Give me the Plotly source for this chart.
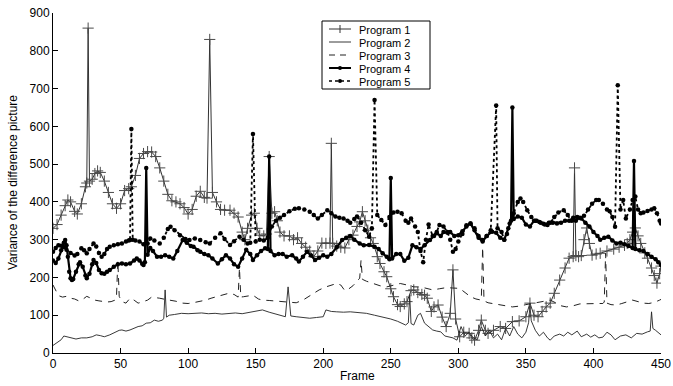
import plotly.graph_objects as go

# ---------------- data ----------------
x_ticks = [0, 50, 100, 150, 200, 250, 300, 350, 400, 450]
y_ticks = [0, 100, 200, 300, 400, 500, 600, 700, 800, 900]
series_names = ["Program 1", "Program 2", "Program 3", "Program 4", "Program 5"]

p1_frames = [0, 3, 6, 9, 11, 13, 16, 18, 21, 24, 25, 26, 27, 29, 31, 33, 35, 38, 41, 44, 47, 50, 53, 56, 58,
             61, 64, 67, 70, 73, 76, 79, 82, 85, 88, 91, 94, 97, 100, 103, 106, 109, 112, 114, 116, 118, 121,
             124, 127, 131, 134, 137, 140, 142, 144, 147, 149, 151, 153, 156, 158, 160, 162, 164, 166, 168,
             171, 175, 178, 181, 184, 187, 190, 193, 196, 199, 202, 205, 206, 207, 210, 213, 216, 219, 222,
             225, 227, 229, 231, 233, 235, 237, 240, 242, 245, 247, 250, 252, 255, 257, 260, 262, 265, 267,
             270, 273, 275, 277, 280, 282, 285, 288, 291, 294, 296, 298, 301, 304, 308, 310, 312, 315, 317,
             320, 322, 326, 331, 335, 340, 345, 350, 353, 356, 359, 362, 365, 368, 371, 375, 379, 382, 385,
             386, 387, 389, 391, 393, 395, 397, 399, 402, 405, 410, 415, 419, 423, 425, 427, 429, 431, 433,
             435, 438, 440, 443, 445, 447, 449, 450]
p1_values = [330, 340, 365, 390, 405, 400, 375, 368, 395, 440, 450, 860, 455, 460, 475, 482, 478, 455, 425, 395,
             383, 395, 430, 435, 440, 470, 515, 528, 533, 532, 520, 490, 455, 420, 403, 400, 395, 385, 368, 380,
             415, 428, 412, 410, 830, 425, 400, 380, 378, 378, 370, 360, 320, 300, 330, 365, 370, 330, 312, 310,
             315, 520, 370, 374, 350, 320, 310, 310, 300, 305, 290, 280, 270, 255, 270, 291, 290, 291, 555, 290,
             283, 280, 278, 300, 312, 335, 347, 374, 350, 325, 305, 290, 255, 237, 215, 202, 170, 149, 128, 123,
             130, 136, 165, 167, 160, 155, 153, 145, 110, 122, 127, 95, 70, 105, 220, 90, 43, 55, 52, 40, 34, 60,
             87, 60, 52, 60, 70, 65, 83, 85, 96, 132, 100, 96, 110, 122, 132, 158, 193, 225, 251, 255, 490, 258,
             255, 258, 300, 331, 290, 259, 262, 264, 270, 275, 280, 285, 290, 300, 320, 331, 310, 290, 265, 251,
             225, 205, 185, 210, 230]

p2_frames = [0, 3, 6, 8, 10, 13, 17, 21, 25, 29, 32, 35, 38, 42, 46, 49, 51, 54, 57, 60, 63, 66, 69, 72, 75,
             78, 81, 82, 83, 84, 86, 90, 95, 100, 105, 110, 115, 120, 125, 130, 135, 140, 145, 150, 155, 160,
             163, 168, 172, 174, 176, 180, 185, 190, 195, 200, 202, 206, 210, 215, 220, 225, 232, 238, 244,
             250, 255, 258, 261, 263, 264, 265, 267, 270, 272, 275, 278, 281, 284, 287, 290, 293, 296, 299,
             302, 305, 308, 311, 314, 317, 320, 323, 326, 329, 332, 335, 338, 341, 344, 347, 350, 352, 353,
             354, 357, 360, 363, 366, 368, 371, 375, 378, 381, 384, 388, 391, 395, 398, 401, 404, 407, 410,
             413, 416, 420, 424, 428, 432, 436, 440, 442, 443, 444, 446, 448, 450]
p2_values = [20, 28, 35, 45, 43, 40, 37, 40, 40, 43, 48, 46, 43, 48, 56, 60, 61, 58, 61, 66, 70, 72, 79, 80, 87,
             84, 87, 92, 167, 95, 100, 102, 105, 104, 105, 106, 104, 105, 103, 105, 106, 104, 108, 110, 114, 108,
             105, 100, 96, 175, 98, 96, 94, 92, 94, 96, 114, 110, 109, 108, 109, 107, 105, 100, 96, 90, 84, 78,
             74, 80, 153, 78, 74, 100, 105, 79, 70, 61, 58, 56, 45, 42, 40, 34, 70, 45, 55, 40, 35, 70, 45, 60,
             40, 50, 35, 65, 45, 70, 50, 40, 55, 80, 125, 85, 60, 45, 55, 40, 34, 45, 50, 45, 55, 48, 58, 43, 50,
             42, 48, 40, 42, 55, 48, 35, 45, 48, 40, 52, 50, 56, 58, 109, 65, 60, 55, 48]

p3_frames = [0, 2, 4, 7, 10, 13, 16, 19, 22, 25, 28, 31, 34, 37, 40, 43, 46, 47, 48, 49, 51, 54, 57, 60, 63,
             66, 70, 73, 76, 79, 83, 87, 91, 96, 100, 105, 109, 113, 117, 121, 125, 130, 134, 136, 137, 138,
             139, 141, 145, 148, 152, 155, 160, 165, 170, 175, 180, 185, 189, 193, 197, 202, 206, 210, 213,
             216, 219, 222, 225, 227, 228, 229, 232, 237, 242, 247, 252, 257, 262, 267, 272, 277, 281, 286,
             291, 296, 301, 305, 309, 313, 317, 318, 319, 322, 326, 330, 335, 340, 345, 350, 355, 360, 365,
             368, 372, 376, 380, 385, 390, 395, 400, 404, 407, 408, 409, 410, 413, 417, 421, 425, 429, 433,
             437, 441, 445, 449, 450]
p3_values = [180, 165, 152, 148, 150, 145, 143, 138, 142, 150, 145, 140, 138, 136, 135, 136, 140, 150, 245, 150,
             136, 132, 145, 140, 132, 135, 140, 148, 147, 145, 142, 140, 137, 132, 131, 134, 136, 140, 145, 149,
             153, 158, 155, 150, 148, 225, 148, 149, 152, 153, 143, 140, 139, 137, 135, 134, 133, 140, 149, 158,
             167, 175, 180, 184, 180, 165, 170, 178, 190, 198, 246, 195, 190, 184, 178, 175, 180, 184, 180, 175,
             175, 170, 167, 170, 173, 172, 171, 160, 149, 143, 140, 280, 138, 133, 131, 128, 125, 122, 124, 128,
             131, 134, 138, 140, 133, 125, 122, 125, 130, 131, 132, 131, 131, 135, 264, 132, 128, 127, 131, 136,
             140, 136, 132, 131, 134, 140, 142]

p4_frames = [0, 2, 4, 6, 8, 9, 10, 11, 12, 13, 14, 15, 17, 19, 20, 22, 24, 25, 27, 29, 30, 32, 34, 36, 38, 40,
             42, 45, 48, 51, 54, 57, 60, 62, 64, 66, 67, 68, 69, 70, 72, 74, 77, 80, 83, 86, 89, 92, 96, 99, 102,
             104, 107, 109, 112, 115, 118, 122, 125, 128, 131, 134, 137, 140, 143, 146, 148, 151, 154, 157, 159,
             160, 161, 164, 167, 170, 173, 177, 180, 182, 185, 188, 191, 194, 197, 200, 203, 206, 210, 214, 217,
             220, 223, 227, 230, 234, 238, 241, 244, 247, 249, 250, 251, 254, 257, 260, 263, 266, 269, 272, 275,
             279, 282, 284, 287, 289, 292, 294, 297, 300, 303, 306, 309, 312, 315, 318, 321, 325, 328, 331, 334,
             337, 339, 340, 341, 344, 347, 350, 353, 356, 358, 361, 364, 367, 370, 373, 376, 379, 382, 385, 388,
             391, 394, 397, 400, 403, 405, 408, 411, 414, 417, 420, 423, 426, 429, 430, 431, 434, 437, 440, 443,
             446, 448, 450]
p4_values = [245, 238, 250, 272, 292, 299, 285, 255, 215, 198, 193, 196, 215, 235, 240, 228, 205, 198, 210, 235,
             246, 238, 220, 211, 210, 215, 220, 228, 235, 237, 235, 237, 245, 250, 245, 236, 233, 240, 490, 260,
             278, 270, 255, 255, 259, 255, 250, 270, 299, 292, 283, 281, 272, 268, 262, 259, 250, 237, 248, 259,
             250, 235, 228, 250, 273, 262, 246, 259, 270, 277, 275, 520, 270, 259, 262, 262, 255, 259, 250, 242,
             255, 268, 258, 246, 252, 259, 255, 262, 280, 299, 305, 310, 300, 290, 285, 286, 281, 275, 264, 255,
             248, 463, 250, 262, 262, 244, 252, 285, 280, 275, 285, 299, 310, 317, 310, 320, 318, 320, 310, 312,
             322, 335, 343, 325, 305, 295, 310, 321, 318, 305, 300, 330, 350, 650, 355, 361, 358, 340, 335, 350,
             350, 345, 340, 345, 345, 343, 345, 350, 350, 358, 360, 356, 345, 335, 320, 310, 300, 305, 308, 298,
             290, 292, 288, 283, 278, 508, 275, 272, 270, 262, 255, 248, 240, 233]

p5_frames = [0, 2, 4, 6, 8, 10, 13, 16, 18, 21, 23, 25, 27, 30, 32, 34, 36, 38, 40, 42, 45, 48, 51, 54, 56, 57,
             58, 59, 61, 64, 67, 70, 72, 75, 79, 82, 85, 87, 90, 94, 98, 101, 105, 109, 113, 116, 120, 124, 127,
             131, 134, 138, 141, 144, 146, 148, 150, 153, 156, 159, 162, 165, 168, 171, 175, 179, 182, 186, 190,
             193, 196, 199, 203, 206, 209, 212, 215, 218, 220, 223, 225, 228, 231, 234, 236, 238, 240, 243, 246,
             249, 252, 255, 258, 261, 263, 265, 268, 270, 272, 274, 276, 278, 281, 284, 286, 289, 292, 294, 296,
             298, 300, 303, 306, 309, 312, 315, 318, 321, 324, 328, 329, 332, 334, 336, 338, 341, 344, 346, 348,
             351, 354, 357, 360, 363, 366, 368, 371, 374, 378, 381, 384, 387, 390, 393, 396, 399, 402, 404, 407,
             410, 412, 414, 416, 418, 420, 422, 424, 427, 429, 431, 433, 435, 437, 440, 443, 445, 447, 449, 450]
p5_values = [268, 278, 285, 284, 280, 273, 265, 258, 262, 277, 272, 264, 275, 290, 282, 265, 255, 262, 275, 281,
             285, 288, 290, 295, 298, 299, 593, 300, 298, 295, 288, 290, 303, 298, 290, 305, 328, 334, 325, 312,
             302, 299, 303, 299, 293, 290, 305, 317, 302, 286, 296, 308, 300, 290, 292, 580, 295, 300, 298, 305,
             335, 350, 358, 365, 375, 382, 383, 380, 374, 365, 356, 365, 378, 370, 361, 358, 356, 350, 345, 355,
             361, 345, 325, 308, 330, 670, 365, 352, 339, 360, 372, 374, 370, 350, 345, 356, 335, 320, 270, 240,
             300, 340, 310, 320, 339, 335, 320, 300, 268, 275, 295, 315, 338, 343, 330, 310, 299, 310, 325, 655,
             330, 320, 300, 315, 343, 370, 400, 409, 400, 378, 360, 350, 347, 342, 339, 345, 360, 372, 378, 365,
             350, 350, 358, 363, 380, 395, 405, 405, 395, 380, 375, 360, 334, 709, 380, 405, 356, 380, 405, 414,
             380, 370, 372, 376, 380, 383, 370, 350, 343]

# ---------------- figure ----------------
FONT = "Liberation Sans, Arial, Helvetica, sans-serif"
fig = go.Figure()

fig.add_trace(go.Scatter(
    x=p1_frames, y=p1_values, name=series_names[0], mode="lines+markers",
    line=dict(color="#333333", width=1),
    marker=dict(symbol="cross-thin", size=8, line=dict(color="#4a4a4a", width=1))))

fig.add_trace(go.Scatter(
    x=p2_frames, y=p2_values, name=series_names[1], mode="lines",
    line=dict(color="#222222", width=0.9)))

fig.add_trace(go.Scatter(
    x=p3_frames, y=p3_values, name=series_names[2], mode="lines",
    line=dict(color="#222222", width=1, dash="7px,6px")))

fig.add_trace(go.Scatter(
    x=p4_frames, y=p4_values, name=series_names[3], mode="lines+markers",
    line=dict(color="#000000", width=2.2),
    marker=dict(symbol="circle", size=4.5, color="#000000")))

fig.add_trace(go.Scatter(
    x=p5_frames, y=p5_values, name=series_names[4], mode="lines+markers",
    line=dict(color="#000000", width=1.8, dash="dot"),
    marker=dict(symbol="circle", size=4.5, color="#000000")))

# ---- hand-drawn compact legend box (like the original) ----
PL, PR, PT, PB = 53, 661, 13, 353          # plot area in pixels
def px(xp):
    return (xp - PL) / (PR - PL)
def py(yp):
    return (PB - yp) / (PB - PT)

ROW_PITCH = 13
row_y = [55 + (k - 2) * ROW_PITCH for k in range(5)]
shapes = [dict(type="rect", xref="paper", yref="paper", x0=px(322), x1=px(430),
               y0=py(row_y[-1] + 8), y1=py(row_y[0] - 8),
               line=dict(color="#000", width=1), fillcolor="white", layer="above")]
sx0, sx1, sxm = 329, 351, 340
styles = [
    dict(color="#333", width=1, dash="solid"),
    dict(color="#222", width=0.9, dash="solid"),
    dict(color="#222", width=1, dash="6px,5px"),
    dict(color="#000", width=2, dash="solid"),
    dict(color="#000", width=1.6, dash="dot"),
]
for i, ry in enumerate(row_y):
    shapes.append(dict(type="line", xref="paper", yref="paper", x0=px(sx0), x1=px(sx1), y0=py(ry), y1=py(ry),
                       line=styles[i], layer="above"))
    if i == 0:
        shapes.append(dict(type="line", xref="paper", yref="paper", x0=px(sxm), x1=px(sxm),
                           y0=py(ry - 4), y1=py(ry + 4), line=dict(color="#333", width=1), layer="above"))
    if i in (3, 4):
        r = 2
        shapes.append(dict(type="circle", xref="paper", yref="paper", x0=px(sxm - r), x1=px(sxm + r),
                           y0=py(ry + r), y1=py(ry - r), fillcolor="#000", line=dict(width=0), layer="above"))

# one multi-line text block: line pitch from the 10px base font, glyphs drawn at 11px
legend_text = "<br>".join('<span style="font-size:11px">%s</span>' % n for n in series_names)
annotations = [
    dict(xref="paper", yref="paper", x=px(357), y=py(56), text=legend_text, showarrow=False, align="left",
         xanchor="left", yanchor="middle", font=dict(family=FONT, size=10, color="#000")),
    dict(xref="paper", yref="paper", x=px(357), y=py(376), text="Frame", showarrow=False,
         xanchor="center", yanchor="middle", font=dict(family=FONT, size=12, color="#000")),
    dict(xref="paper", yref="paper", x=px(13), y=py(183), text="Variance of the difference picture",
         showarrow=False, textangle=-90, xanchor="center", yanchor="middle",
         font=dict(family=FONT, size=12, color="#000")),
]

fig.update_layout(
    width=673, height=386,
    margin=dict(l=PL, r=673 - PR, t=PT, b=386 - PB),
    paper_bgcolor="white", plot_bgcolor="white",
    font=dict(family=FONT, size=12, color="#000"),
    showlegend=False,
    shapes=shapes, annotations=annotations,
    xaxis=dict(
        range=[0, 450], tickvals=x_ticks, ticktext=[str(v) for v in x_ticks], automargin=False,
        showline=True, linecolor="#000", linewidth=1, mirror=False,
        ticks="inside", ticklen=5, tickcolor="#000", showgrid=False, zeroline=False),
    yaxis=dict(
        range=[0, 900], tickvals=y_ticks, ticktext=[str(v) for v in y_ticks], automargin=False,
        showline=True, linecolor="#000", linewidth=1, mirror=False,
        ticks="inside", ticklen=5, tickcolor="#000", showgrid=False, zeroline=False),
)

fig.write_html("out.html")
